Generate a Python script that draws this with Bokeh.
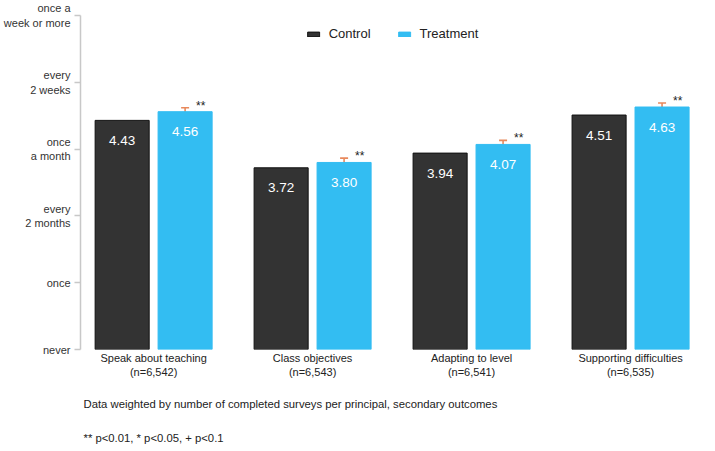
from bokeh.plotting import figure
from bokeh.models import ColumnDataSource, Range1d, FixedTicker, Title, Legend, LegendItem, Whisker
from bokeh.embed import file_html
from bokeh.resources import INLINE
from bokeh.core.properties import value

# ---- data ----
categories = ["Speak about teaching\n(n=6,542)", "Class objectives\n(n=6,543)",
              "Adapting to level\n(n=6,541)", "Supporting difficulties\n(n=6,535)"]
control = [4.43, 3.72, 3.94, 4.51]
treatment = [4.56, 3.80, 4.07, 4.63]
treat_err = [0.06, 0.065, 0.06, 0.06]
stars = ["**", "**", "**", "**"]
y_tick_labels = ["never", "once", "every\n2 months", "once\na month", "every\n2 weeks", "once a\nweek or more"]
caption1 = "Data weighted by number of completed surveys per principal, secondary outcomes"
caption2 = "** p<0.01, * p<0.05, + p<0.1"

FONT = "Liberation Sans"
CTRL = "#333333"
TREAT = "#33BDF2"
ERR = "#E8895C"

groups = list(range(1, len(categories) + 1))
off = 0.198
bw = 0.34
cx = [g - off for g in groups]
tx = [g + off for g in groups]

src_c = ColumnDataSource(dict(x=cx, top=control, lab=[f"{v:.2f}" for v in control],
                              ly=[v - 0.3 for v in control]))
src_t = ColumnDataSource(dict(x=tx, top=treatment, lab=[f"{v:.2f}" for v in treatment],
                              ly=[v - 0.3 for v in treatment],
                              lo=[v - e for v, e in zip(treatment, treat_err)],
                              hi=[v + e for v, e in zip(treatment, treat_err)],
                              sx=[x + 0.098 for x in tx], sy=[v + 0.09 for v in treatment],
                              st=stars))

p = figure(frame_width=624, frame_height=334, output_backend="svg", toolbar_location=None,
           x_range=Range1d(0.54, 4.465), y_range=Range1d(1, 6),
           min_border_left=72, min_border_right=3, min_border_top=15, min_border_bottom=10)
p.outline_line_color = None
p.xgrid.visible = False
p.ygrid.visible = False
p.background_fill_color = "white"

rc = p.vbar(x="x", top="top", bottom=1, width=bw, source=src_c,
            fill_color=CTRL, line_color="#111111", line_width=1)
rt = p.vbar(x="x", top="top", bottom=1, width=bw, source=src_t,
            fill_color=TREAT, line_color=TREAT, line_width=1)

p.text(x="x", y="ly", text="lab", source=src_c, text_color="white",
       text_align="center", text_baseline="middle", text_font=value(FONT),
       text_font_size="13.5px")
p.text(x="x", y="ly", text="lab", source=src_t, text_color="white",
       text_align="center", text_baseline="middle", text_font=value(FONT),
       text_font_size="13.5px")

w = Whisker(base="x", lower="lo", upper="hi", source=src_t, dimension="height",
            line_color=ERR, line_width=1.6)
w.upper_head.size = 8
w.lower_head.size = 8
w.upper_head.line_color = ERR
w.lower_head.line_color = ERR
w.upper_head.line_width = 1.6
w.lower_head.line_width = 1.6
p.add_layout(w)

p.text(x="sx", y="sy", text="st", source=src_t, text_color="#222222",
       text_align="center", text_baseline="middle", text_font=value(FONT),
       text_font_size="12px")

# y axis
ya = p.yaxis[0]
ya.ticker = FixedTicker(ticks=[1, 2, 3, 4, 5, 6])
ya.major_label_overrides = {i + 1: t for i, t in enumerate(y_tick_labels)}
ya.axis_line_color = "#c8c8c8"
ya.axis_line_width = 1.5
ya.major_tick_line_color = "#c8c8c8"
ya.major_tick_line_width = 1.5
ya.major_tick_out = 6
ya.major_tick_in = 0
ya.minor_tick_line_color = None
ya.major_label_standoff = 4
ya.major_label_text_font = FONT
ya.major_label_text_font_size = "11px"
ya.major_label_text_color = "#333333"

# x axis
xa = p.xaxis[0]
xa.ticker = FixedTicker(ticks=groups)
xa.major_label_overrides = {g: c for g, c in zip(groups, categories)}
xa.axis_line_color = None
xa.major_tick_line_color = None
xa.major_tick_out = 0
xa.major_tick_in = 0
xa.minor_tick_line_color = None
xa.minor_tick_out = 0
xa.major_label_standoff = 2
xa.major_label_text_font = FONT
xa.major_label_text_font_size = "11px"
xa.major_label_text_color = "#222222"

# legend
legend = Legend(items=[LegendItem(label="Control", renderers=[rc]),
                       LegendItem(label="Treatment", renderers=[rt])],
                location="top_center", orientation="horizontal",
                border_line_color=None, background_fill_alpha=0,
                glyph_width=15, glyph_height=6, label_standoff=8, spacing=26,
                padding=0, margin=11, label_text_font=FONT, label_text_font_size="13px",
                label_text_color="#222222")
p.add_layout(legend)

t1 = Title(text=caption1, align="left", text_font=FONT, text_font_size="11.3px",
           text_font_style="normal", text_color="#222222", offset=3, standoff=31)
t2 = Title(text=caption2, align="left", text_font=FONT, text_font_size="11.3px",
           text_font_style="normal", text_color="#222222", offset=3, standoff=8)
p.add_layout(t1, "below")
p.add_layout(t2, "below")

open("out.html", "w").write(file_html(p, INLINE))
